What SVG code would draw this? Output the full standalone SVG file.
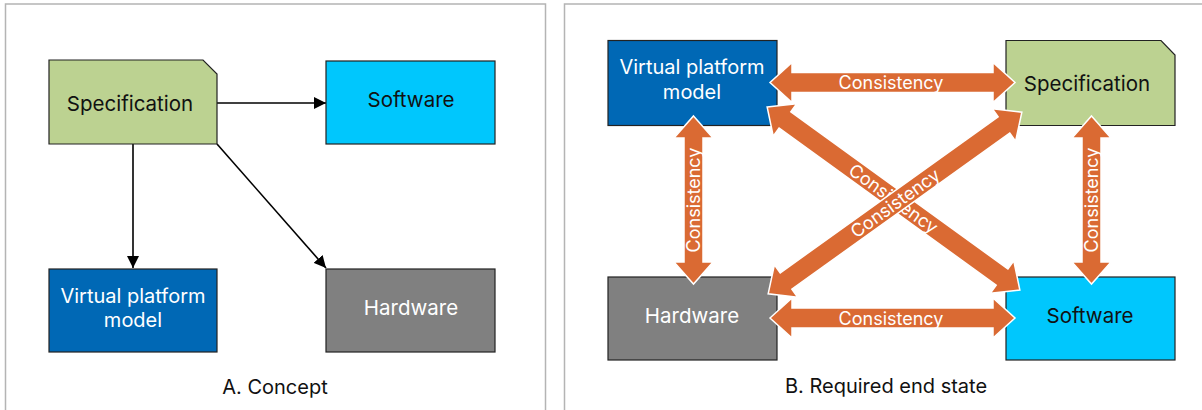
<svg xmlns="http://www.w3.org/2000/svg" width="1202" height="410" viewBox="0 0 1202 410">
  <style>
    .panel { fill: #ffffff; stroke: #b4b4b4; stroke-width: 1.5; }
    .box { stroke: #222222; stroke-width: 1.2; }
    .spec { fill: #bcd291; }
    .sw { fill: #00c7fd; }
    .vpm { fill: #0068b5; }
    .hw { fill: #808080; }
    .lbl { font-family: Inter, "Liberation Sans", sans-serif; font-size: 20.5px; text-anchor: middle; }
    .lbl2 { font-family: Inter, "Liberation Sans", sans-serif; font-size: 20px; text-anchor: middle; }
    .dark { fill: #111111; }
    .light { fill: #ffffff; }
    .cap { font-family: Inter, "Liberation Sans", sans-serif; font-size: 20px; text-anchor: middle; fill: #111111; }
    .conn { stroke: #000000; stroke-width: 1.6; fill: none; marker-end: url(#ah); }
    .dbl { fill: #da6a33; stroke: #ffffff; stroke-width: 1.5; stroke-linejoin: miter; }
    .alab { font-family: Inter, "Liberation Sans", sans-serif; font-size: 18px; text-anchor: middle; fill: #ffffff; }
  </style>
  <defs>
    <marker id="ah" viewBox="0 0 12 12" refX="12" refY="6" markerWidth="12" markerHeight="12" markerUnits="userSpaceOnUse" orient="auto">
      <path d="M0,0 L12,6 L0,12 Z" fill="#000000"/>
    </marker>
  </defs>

  <!-- panels -->
  <rect class="panel" x="5.5" y="4" width="540" height="410"/>
  <rect class="panel" x="564.5" y="4" width="645" height="410"/>

  <!-- Panel A -->
  <g id="a-connectors">
    <line class="conn" x1="217" y1="103" x2="326" y2="103"/>
    <line class="conn" x1="133" y1="144" x2="133" y2="268"/>
    <line class="conn" x1="217" y1="144" x2="326" y2="268"/>
  </g>
  <g id="a-spec">
    <path class="box spec" d="M49,60 H203 L217,74 V144 H49 Z"/>
    <text class="lbl dark" x="130" y="110.5">Specification</text>
  </g>
  <g id="a-software">
    <rect class="box sw" x="326" y="61" width="169" height="83"/>
    <text class="lbl dark" x="411" y="107">Software</text>
  </g>
  <g id="a-vpm">
    <rect class="box vpm" x="49" y="269" width="168" height="83"/>
    <text class="lbl2 light" x="133" y="302.5">Virtual platform</text>
    <text class="lbl2 light" x="133" y="327">model</text>
  </g>
  <g id="a-hardware">
    <rect class="box hw" x="326" y="269" width="169" height="83"/>
    <text class="lbl light" x="411" y="315">Hardware</text>
  </g>
  <text class="cap" x="275" y="394">A. Concept</text>

  <!-- Panel B nodes -->
  <g id="b-vpm">
    <rect class="box vpm" x="608" y="40.5" width="169" height="85"/>
    <text class="lbl2 light" x="692" y="74">Virtual platform</text>
    <text class="lbl2 light" x="692" y="98.5">model</text>
  </g>
  <g id="b-spec">
    <path class="box spec" d="M1006,40.5 H1161 L1175,55 V125.5 H1006 Z"/>
    <text class="lbl dark" x="1087" y="91">Specification</text>
  </g>
  <g id="b-hardware">
    <rect class="box hw" x="608" y="277" width="169" height="83"/>
    <text class="lbl light" x="692" y="323">Hardware</text>
  </g>
  <g id="b-software">
    <rect class="box sw" x="1006" y="277" width="169" height="83"/>
    <text class="lbl dark" x="1090" y="323">Software</text>
  </g>

  <!-- Panel B connectors -->
  <g id="b-connectors">
    <!-- top horizontal -->
    <path class="dbl" d="M770,82.5 L792,62.5 V72.5 H993 V62.5 L1015,82.5 L993,102.5 V92.5 H792 V102.5 Z"/>
    <text class="alab" x="891" y="89">Consistency</text>
    <!-- bottom horizontal -->
    <path class="dbl" d="M770,318 L792,298 V308 H993 V298 L1015,318 L993,338 V328 H792 V338 Z"/>
    <text class="alab" x="891" y="324.5">Consistency</text>
    <!-- left vertical -->
    <path class="dbl" d="M693.5,116 L713,138 H703 V262 H713 L693.5,284 L674,262 H684 V138 H674 Z"/>
    <text class="alab" transform="translate(700,200) rotate(-90)" x="0" y="0">Consistency</text>
    <!-- right vertical -->
    <path class="dbl" d="M1091.5,116 L1111,138 H1101 V262 H1111 L1091.5,284 L1072,262 H1082 V138 H1072 Z"/>
    <text class="alab" transform="translate(1098,200) rotate(-90)" x="0" y="0">Consistency</text>
    <!-- diagonal VPM <-> Software -->
    <g transform="translate(893.5,198.5) rotate(35.9)">
      <path class="dbl" d="M-156,0 L-134,-20 V-10 H134 V-20 L156,0 L134,20 V10 H-134 V20 Z"/>
      <text class="alab" x="0" y="6.5">Consistency</text>
    </g>
    <!-- diagonal Hardware <-> Specification -->
    <g transform="translate(895,203) rotate(-35.6)">
      <path class="dbl" d="M-156,0 L-134,-20 V-10 H134 V-20 L156,0 L134,20 V10 H-134 V20 Z"/>
      <text class="alab" x="0" y="6.5">Consistency</text>
    </g>
  </g>
  <text class="cap" x="886" y="393">B. Required end state</text>
</svg>
